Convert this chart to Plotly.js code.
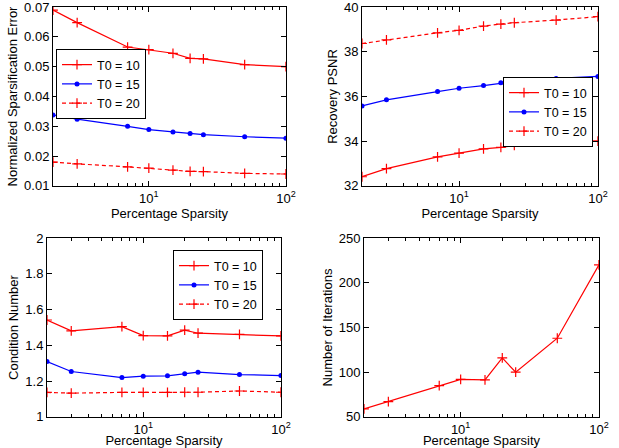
<!DOCTYPE html>
<html>
<head>
<meta charset="utf-8">
<script src="https://cdn.plot.ly/plotly-3.0.1.min.js"></script>
<style>html,body{margin:0;padding:0;background:#fff;}#chart{width:619px;height:448px;}</style>
</head>
<body>
<div id="chart"></div>
<script>
// Shared x values (percentage sparsity)
const sparsity = [2, 3, 7, 10, 15, 20, 25, 50, 100];
const seriesNames = ['T0 = 10', 'T0 = 15', 'T0 = 20'];

// Normalized sparsification error
const errT10 = [0.0690, 0.0648, 0.0566, 0.0557, 0.0545, 0.0528, 0.0526, 0.0507, 0.0500];
const errT15 = [0.0338, 0.0324, 0.0300, 0.0289, 0.0281, 0.0276, 0.0272, 0.0265, 0.0260];
const errT20 = [0.0180, 0.0174, 0.0164, 0.0160, 0.0153, 0.0149, 0.0148, 0.0142, 0.0140];

// Recovery PSNR
const psnrT10 = [32.41, 32.77, 33.30, 33.47, 33.66, 33.72, 33.81, 33.97, 34.00];
const psnrT15 = [35.58, 35.85, 36.22, 36.37, 36.49, 36.61, 36.67, 36.81, 36.90];
const psnrT20 = [38.37, 38.53, 38.85, 38.96, 39.15, 39.24, 39.30, 39.42, 39.57];

// Condition number
const condT10 = [1.542, 1.481, 1.505, 1.455, 1.453, 1.485, 1.468, 1.462, 1.453];
const condT15 = [1.310, 1.254, 1.220, 1.228, 1.230, 1.241, 1.250, 1.237, 1.231];
const condT20 = [1.137, 1.133, 1.137, 1.137, 1.137, 1.138, 1.138, 1.145, 1.138];

// Number of iterations
const iterations = [59, 67.2, 85.1, 91.9, 91.4, 116, 100, 138, 220];

// Tick labels
const xTickVals = [10, 100];
const xTickText = ['10<sup>1</sup>', '10<sup>2</sup>'];
const xMinorVals = [3, 4, 5, 6, 7, 8, 9, 20, 30, 40, 50, 60, 70, 80, 90];
const errTicks = [0.01, 0.02, 0.03, 0.04, 0.05, 0.06, 0.07];
const errTickText = ['0.01', '0.02', '0.03', '0.04', '0.05', '0.06', '0.07'];
const psnrTicks = [32, 34, 36, 38, 40];
const condTicks = [1, 1.2, 1.4, 1.6, 1.8, 2];
const condTickText = ['1', '1.2', '1.4', '1.6', '1.8', '2'];
const iterTicks = [50, 100, 150, 200, 250];

const RED = 'rgb(255,0,0)', BLUE = 'rgb(0,0,255)';
const FONT = 'Liberation Sans, Arial, Helvetica, sans-serif';

function styleFor(i) {
  if (i === 0) return {line:{color:RED,width:1.2}, marker:{symbol:'cross-thin-open',size:7,color:RED,line:{color:RED,width:1.2}}};
  if (i === 1) return {line:{color:BLUE,width:1.2}, marker:{symbol:'circle',size:5,color:BLUE}};
  return {line:{color:RED,width:1.2,dash:'4px,3px'}, marker:{symbol:'cross-thin-open',size:7,color:RED,line:{color:RED,width:1.2}}};
}

const traces = [];
function addGroup(ys, xa, ya, legendId) {
  ys.forEach((y, i) => {
    const s = styleFor(i);
    traces.push(Object.assign({
      type:'scatter', mode:'lines+markers', x:sparsity, y:y, name:seriesNames[i],
      xaxis:xa, yaxis:ya, legend:legendId, showlegend:true
    }, s));
  });
}
addGroup([errT10, errT15, errT20], 'x', 'y', 'legend');
addGroup([psnrT10, psnrT15, psnrT20], 'x2', 'y2', 'legend2');
addGroup([condT10, condT15, condT20], 'x3', 'y3', 'legend3');
traces.push(Object.assign({type:'scatter', mode:'lines+markers', x:sparsity, y:iterations,
  name:'Iterations', xaxis:'x4', yaxis:'y4', showlegend:false}, styleFor(0)));

const XRANGE = [Math.log10(2), 2.0005];

function xAxis(domain, anchor) {
  return {
    type:'log', domain:domain, anchor:anchor, range:XRANGE,
    tickmode:'array', tickvals:xTickVals, ticktext:xTickText,
    ticks:'inside', ticklen:5, tickcolor:'#000', mirror:'ticks', showline:true,
    linecolor:'#000', linewidth:1, showgrid:false, zeroline:false,
    ticklabeloverflow:'allow',
    tickfont:{family:FONT,size:13,color:'#000'},
    title:{text:'Percentage Sparsity', font:{family:FONT,size:13,color:'#000'}, standoff:3}
  };
}
// overlay axis used only to draw the small log-decade ticks
function xMinorAxis(domain, anchor, over) {
  return {
    type:'log', domain:domain, anchor:anchor, overlaying:over, range:XRANGE,
    tickmode:'array', tickvals:xMinorVals, showticklabels:false,
    ticks:'inside', ticklen:3, tickcolor:'#000', mirror:'ticks', showline:false,
    showgrid:false, zeroline:false
  };
}
function yAxis(domain, anchor, range, vals, texts, title) {
  const pad = (range[1]-range[0])*0.0005;
  return {
    domain:domain, anchor:anchor, range:[range[0]-pad, range[1]+pad],
    tickmode:'array', tickvals:vals, ticktext:texts || vals.map(String),
    ticks:'inside', ticklen:5, tickcolor:'#000', mirror:'ticks', showline:true,
    linecolor:'#000', linewidth:1, showgrid:false, zeroline:false,
    ticklabeloverflow:'allow',
    tickfont:{family:FONT,size:13,color:'#000'},
    title:{text:title, font:{family:FONT,size:13,color:'#000'}, standoff:3}
  };
}
function legendAt(x, y) {
  return {x:x, y:y, xanchor:'center', yanchor:'middle', xref:'paper', yref:'paper',
    bgcolor:'#fff', bordercolor:'#000', borderwidth:1, itemwidth:30,
    font:{family:FONT,size:12.5,color:'#000'}, tracegroupgap:0};
}

const topY = [1-186/448, 1-7/448];
const botY = [1-417/448, 1-238/448];
const dTL = [53/619, 286/619], dTR = [362/619, 598/619], dBL = [47/619, 281/619], dBR = [364/619, 599/619];

const layout = {
  width:619, height:448, margin:{l:0,r:0,t:0,b:0},
  paper_bgcolor:'#fff', plot_bgcolor:'#fff',
  font:{family:FONT,size:13,color:'#000'},
  xaxis: xAxis(dTL, 'y'),
  yaxis: yAxis(topY, 'x', [0.01, 0.07], errTicks, errTickText, 'Normalized Sparsification Error'),
  xaxis2: xAxis(dTR, 'y2'),
  yaxis2: yAxis(topY, 'x2', [32, 40], psnrTicks, null, 'Recovery PSNR'),
  xaxis3: xAxis(dBL, 'y3'),
  yaxis3: yAxis(botY, 'x3', [1, 2], condTicks, condTickText, 'Condition Number'),
  xaxis4: xAxis(dBR, 'y4'),
  yaxis4: yAxis(botY, 'x4', [50, 250], iterTicks, null, 'Number of Iterations'),
  xaxis5: xMinorAxis(dTL, 'y', 'x'),
  xaxis6: xMinorAxis(dTR, 'y2', 'x2'),
  xaxis7: xMinorAxis(dBL, 'y3', 'x3'),
  xaxis8: xMinorAxis(dBR, 'y4', 'x4'),
  legend: legendAt(101/619, 1-84/448),
  legend2: legendAt(548/619, 1-112/448),
  legend3: legendAt(218/619, 1-285/448),
  showlegend:true
};

// transparent helper traces (reusing a real data point) so the overlay tick axes are drawn
const helperY = [errT10, psnrT10, condT10, iterations];
['x5','x6','x7','x8'].forEach((xa, k) => {
  traces.push({type:'scatter', mode:'markers', x:[sparsity[3]], y:[helperY[k][3]],
    marker:{opacity:0, size:1}, xaxis:xa, yaxis:['y','y2','y3','y4'][k],
    showlegend:false, hoverinfo:'skip'});
});

Plotly.newPlot('chart', traces, layout, {displayModeBar:false, staticPlot:true});
</script>
</body>
</html>
